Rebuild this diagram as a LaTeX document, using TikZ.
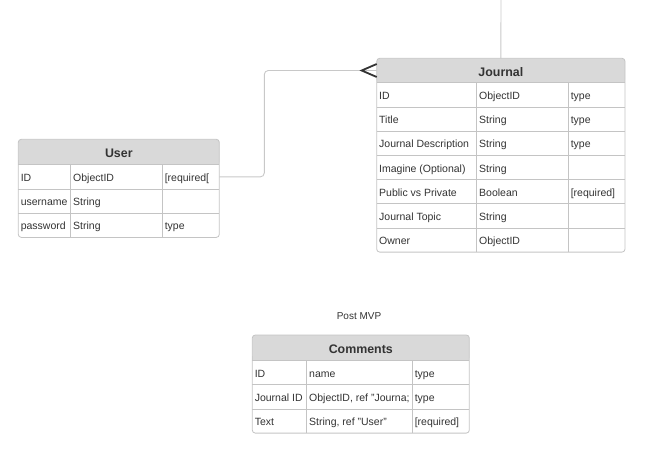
\documentclass[tikz,border=0pt]{standalone}
\usepackage{fontspec}
\setmainfont{Liberation Sans}
\usepackage{tikz}

\definecolor{ink}{HTML}{333333}
\definecolor{headgray}{HTML}{D9D9D9}
\definecolor{rulegray}{HTML}{C4C4C4}
\definecolor{linkgray}{HTML}{C8C8C8}
\newcommand\cellfont{\fontsize{10.5}{12.6}\selectfont}
\newcommand\headfont{\fontsize{12.4}{14.9}\selectfont\bfseries}

\tikzset{
	tablehead/.style={anchor=north west, fill=headgray, rounded corners=3pt, inner sep=0pt, outer sep=0pt, minimum height=25.5pt, text=ink, font=\headfont, execute at begin node={\vrule height 13pt depth 2pt width 0pt}},
	tablecell/.style={anchor=north west, fill=white, inner sep=0pt, outer sep=0pt, minimum height=24.2pt, text=ink, font=\cellfont, execute at begin node={\hbox to #1pt\bgroup\vrule height 11.8pt depth 2.6pt width 0pt\hspace{2.5pt}}, execute at end node={\hfil\egroup}},
	tablerule/.style={draw=rulegray, line width=0.8pt},
	relation/.style={draw=linkgray, line width=0.9pt, rounded corners=4pt},
	crowfoot/.style={draw=ink, line width=1.8pt},
	notetext/.style={text=ink, font=\fontsize{10}{12}\selectfont}
}

\begin{document}
\begin{tikzpicture}[x=1pt, y=-1pt]
			\useasboundingbox (0,0) rectangle (666,455);
			
			% User
			\node[tablehead, minimum width=201pt] (user) at (18.3,139.3) {User};
			\fill[headgray] ([yshift=5pt]user.south west) rectangle (user.south east);
			\node[tablecell=52.4] (u11) at (user.south west) {ID};
			\node[tablecell=91.6] (u12) at (u11.north east) {ObjectID};
			\node[tablecell=57] (u13) at (u12.north east) {[required[};
			\node[tablecell=52.4] (u21) at (u11.south west) {username};
			\node[tablecell=91.6] (u22) at (u21.north east) {String};
			\node[tablecell=57] (u23) at (u22.north east) {};
			\node[tablecell=52.4] (u31) at (u21.south west) {password};
			\node[tablecell=91.6] (u32) at (u31.north east) {String};
			\node[tablecell=57] (u33) at (u32.north east) {type};
			\foreach \r in {1,2,3} \draw[tablerule] (u\r1.north west) -- (u\r3.north east);
			\draw[tablerule] (u11.north east) -- (u31.south east);
			\draw[tablerule] (u12.north east) -- (u32.south east);
			\draw[tablerule, rounded corners=3pt] (user.north west) rectangle (u33.south east);
			
			% Journal
			\node[tablehead, minimum width=248.3pt, minimum height=24.4pt] (journal) at (376.7,58.3) {Journal};
			\fill[headgray] ([yshift=5pt]journal.south west) rectangle (journal.south east);
			\node[tablecell=100] (j11) at (journal.south west) {ID};
			\node[tablecell=91.6] (j12) at (j11.north east) {ObjectID};
			\node[tablecell=56.7] (j13) at (j12.north east) {type};
			\node[tablecell=100] (j21) at (j11.south west) {Title};
			\node[tablecell=91.6] (j22) at (j21.north east) {String};
			\node[tablecell=56.7] (j23) at (j22.north east) {type};
			\node[tablecell=100] (j31) at (j21.south west) {Journal Description};
			\node[tablecell=91.6] (j32) at (j31.north east) {String};
			\node[tablecell=56.7] (j33) at (j32.north east) {type};
			\node[tablecell=100] (j41) at (j31.south west) {Imagine (Optional)};
			\node[tablecell=91.6] (j42) at (j41.north east) {String};
			\node[tablecell=56.7] (j43) at (j42.north east) {};
			\node[tablecell=100] (j51) at (j41.south west) {Public vs Private};
			\node[tablecell=91.6] (j52) at (j51.north east) {Boolean};
			\node[tablecell=56.7] (j53) at (j52.north east) {[required]};
			\node[tablecell=100] (j61) at (j51.south west) {Journal Topic};
			\node[tablecell=91.6] (j62) at (j61.north east) {String};
			\node[tablecell=56.7] (j63) at (j62.north east) {};
			\node[tablecell=100] (j71) at (j61.south west) {Owner};
			\node[tablecell=91.6] (j72) at (j71.north east) {ObjectID};
			\node[tablecell=56.7] (j73) at (j72.north east) {};
			\foreach \r in {1,...,7} \draw[tablerule] (j\r1.north west) -- (j\r3.north east);
			\draw[tablerule] (j11.north east) -- (j71.south east);
			\draw[tablerule] (j12.north east) -- (j72.south east);
			\draw[tablerule, rounded corners=3pt] (journal.north west) rectangle (j73.south east);
			
			% Comments
			\node[notetext] (mvp) at (359,316) {Post MVP};
			\node[tablehead, minimum width=217pt] (comments) at (252.3,335) {Comments};
			\fill[headgray] ([yshift=5pt]comments.south west) rectangle (comments.south east);
			\node[tablecell=54.4] (c11) at (comments.south west) {ID};
			\node[tablecell=105.6] (c12) at (c11.north east) {name};
			\node[tablecell=57] (c13) at (c12.north east) {type};
			\node[tablecell=54.4] (c21) at (c11.south west) {Journal ID};
			\node[tablecell=105.6] (c22) at (c21.north east) {ObjectID, ref "Journa;};
			\node[tablecell=57] (c23) at (c22.north east) {type};
			\node[tablecell=54.4] (c31) at (c21.south west) {Text};
			\node[tablecell=105.6] (c32) at (c31.north east) {String, ref "User"};
			\node[tablecell=57] (c33) at (c32.north east) {[required]};
			\foreach \r in {1,2,3} \draw[tablerule] (c\r1.north west) -- (c\r3.north east);
			\draw[tablerule] (c11.north east) -- (c31.south east);
			\draw[tablerule] (c12.north east) -- (c32.south east);
			\draw[tablerule, rounded corners=3pt] (comments.north west) rectangle (c33.south east);
			
			% relations
			\coordinate (above) at (501,0);
			\draw[relation] (journal.north) -- (above);
			\draw[relation] (u13.east) -- ++(45,0) |- (journal.west);
			\draw[crowfoot] ([yshift=6.5pt]journal.west) -- ([xshift=-15pt]journal.west) -- ([yshift=-6.5pt]journal.west);
\end{tikzpicture}
\end{document}
